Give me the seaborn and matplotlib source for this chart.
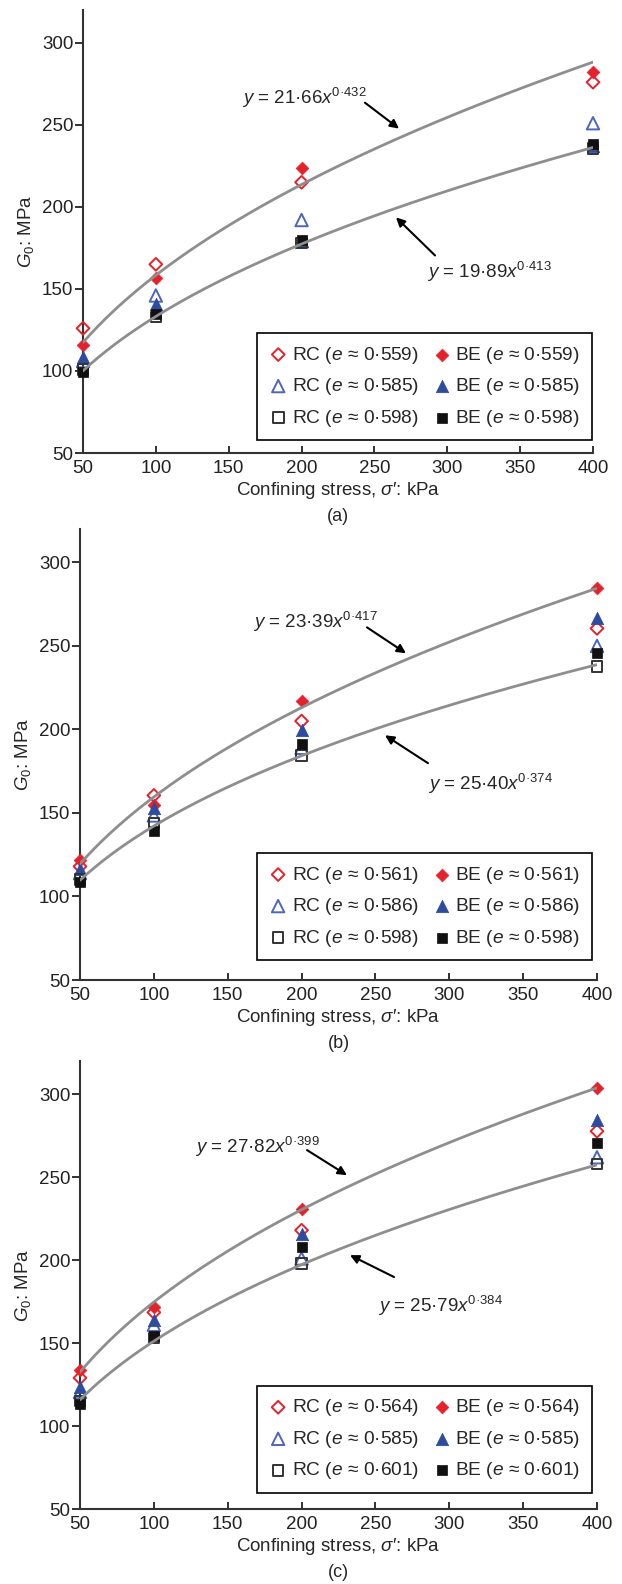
import numpy as np
import pandas as pd
import matplotlib
matplotlib.use("Agg")
import matplotlib.pyplot as plt
import seaborn as sns

sns.set_theme(style="ticks")
plt.rcParams['font.family'] = ['Liberation Sans', 'DejaVu Sans']
plt.rcParams['mathtext.fontset'] = 'custom'
plt.rcParams['mathtext.rm'] = 'Liberation Sans'
plt.rcParams['mathtext.it'] = 'Liberation Sans:italic'

# confining stress, kPa
stress = [50, 100, 200, 400]

# void ratios per panel
e_a = ["0·559", "0·585", "0·598"]
e_b = ["0·561", "0·586", "0·598"]
e_c = ["0·564", "0·585", "0·601"]

# G0 (MPa), one list per void ratio
rc_a = [[126, 165, 215, 276], [106, 146, 192, 251], [101, 133, 178, 235.5]]
be_a = [[116, 156.5, 223.5, 282], [108.5, 141, 179, 237], [99.5, 134.5, 180, 238.5]]
rc_b = [[118, 160.5, 205, 260.5], [114, 148.5, 189, 250], [110, 144, 184.5, 237.7]]
be_b = [[122, 154.5, 217, 284.5], [116.5, 153, 199.5, 266.5], [108.5, 139.5, 191.5, 245.5]]
rc_c = [[129, 168.5, 218, 277.7], [120.5, 161, 201, 262], [115, 153, 198, 257.8]]
be_c = [[133.7, 171.7, 230.7, 303.5], [123.5, 164, 216, 284.3], [113, 154, 208, 270.5]]

# power-law fits y = A x^b (upper, lower)
fit_a = [(21.66, 0.432, "21·66", "0·432"), (19.89, 0.413, "19·89", "0·413")]
fit_b = [(23.39, 0.417, "23·39", "0·417"), (25.40, 0.374, "25·40", "0·374")]
fit_c = [(27.82, 0.399, "27·82", "0·399"), (25.79, 0.384, "25·79", "0·384")]

red = "#e4222b"
blue_f = "#2d4b9f"
blue_o = "#4b66bb"
black = "#111111"
styles = [("D", red, red, 42), ("^", blue_o, blue_f, 80), ("s", "#333333", black, 58)]

panels = [
    dict(rc=rc_a, be=be_a, e=e_a, fit=fit_a, tag="(a)",
         rect=[83 / 622, 1 - 453 / 1584, 510 / 622, 443 / 1584],
         leg=(0.998, 0.029),
         eq_pos=[(159, 263), (286, 156.4)],
         arrows=[((243.5, 263.5), (266.9, 247.7)), ((291.6, 170.4), (264.8, 193.6))]),
    dict(rc=rc_b, be=be_b, e=e_b, fit=fit_b, tag="(b)",
         rect=[80 / 622, 1 - 980 / 1584, 517 / 622, 451 / 1584],
         leg=(0.990, 0.044),
         eq_pos=[(167, 261), (285.6, 163.6)],
         arrows=[((244.3, 261.1), (270.7, 245.6)), ((285.6, 179.8), (256.5, 196.5))]),
    dict(rc=rc_c, be=be_c, e=e_c, fit=fit_c, tag="(c)",
         rect=[80 / 622, 1 - 1509 / 1584, 517 / 622, 448 / 1584],
         leg=(0.990, 0.036),
         eq_pos=[(128, 264.5), (251.7, 168.7)],
         arrows=[((203.7, 266.3), (230.7, 251.2)), ((262.6, 189.8), (232.8, 203))]),
]

fig = plt.figure(figsize=(6.22, 15.84), dpi=100)
xs = np.linspace(50, 400, 200)

for p in panels:
    ax = fig.add_axes(p["rect"])
    for i, (mk, ec_o, c_f, s) in enumerate(styles):
        sns.scatterplot(x=stress, y=p["rc"][i], ax=ax, marker=mk, s=s, color=ec_o,
                        facecolor="none", edgecolor=ec_o, linewidth=1.4,
                        label=rf"RC ($e$ ≈ {p['e'][i]})", clip_on=False, zorder=3)
        sns.scatterplot(x=stress, y=p["be"][i], ax=ax, marker=mk, s=s, color=c_f,
                        edgecolor=c_f, linewidth=0.5,
                        label=rf"BE ($e$ ≈ {p['e'][i]})", clip_on=False, zorder=3)
    for A, b, As, bs in p["fit"]:
        sns.lineplot(x=xs, y=A * xs ** b, ax=ax, color="#8e8e8e", lw=2, zorder=4)
    for (A, b, As, bs), (tx, ty) in zip(p["fit"], p["eq_pos"]):
        ax.text(tx, ty, rf"$y$ = {As}$x^{{{bs}}}$", fontsize=13.5, ha="left", va="baseline")
    for tail, head in p["arrows"]:
        ax.annotate("", xy=head, xytext=tail,
                    arrowprops=dict(arrowstyle="-|>", color="black", lw=1.5,
                                    mutation_scale=13, shrinkA=0, shrinkB=0))

    hs, ls = ax.get_legend_handles_labels()
    order = [0, 2, 4, 1, 3, 5]
    leg = ax.legend([hs[k] for k in order], [ls[k] for k in order], ncol=2,
                    loc="lower right", bbox_to_anchor=p["leg"], borderaxespad=0,
                    fontsize=13.8, labelspacing=0.55, handletextpad=0.2, handlelength=1.0,
                    columnspacing=0.7, borderpad=0.6, fancybox=False, framealpha=1,
                    edgecolor="black")
    leg.get_frame().set_linewidth(1.2)

    ax.set_xlim(50, 400)
    ax.set_ylim(50, 320)
    ax.set_xticks(range(50, 401, 50))
    ax.set_yticks(range(50, 301, 50))
    sns.despine(ax=ax)
    for sp in ["left", "bottom"]:
        ax.spines[sp].set_linewidth(1.5)
        ax.spines[sp].set_color("#333333")
    ax.tick_params(axis="y", direction="out", length=6, width=1.3, pad=1,
                   labelsize=13.5, colors="#222222")
    ax.tick_params(axis="x", direction="in", length=5, width=1.3, pad=5,
                   labelsize=13.5, colors="#222222")
    ax.set_xlabel(r"Confining stress, $\sigma$′: kPa", fontsize=13.5, labelpad=2)
    ax.set_ylabel(r"$G_0$: MPa", fontsize=13.5, labelpad=4)
    ax.annotate(p["tag"], xy=(0.5, 0), xycoords="axes fraction", xytext=(0, -46),
                textcoords="offset points", ha="center", va="center", fontsize=13)

fig.savefig("out.png", dpi=100)
